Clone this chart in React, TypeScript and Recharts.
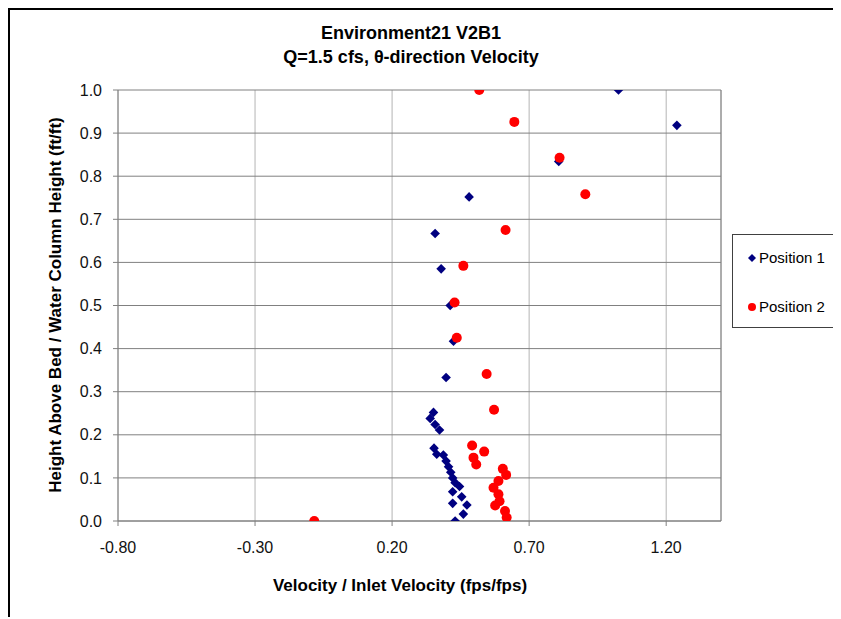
import React from "react";
import { ScatterChart, Scatter, XAxis, YAxis, CartesianGrid, ReferenceLine } from "recharts";

const pos1Velocity = [0.430, 0.460, 0.473, 0.421, 0.454, 0.421, 0.446, 0.430, 0.421, 0.414, 0.406, 0.397, 0.387, 0.363, 0.353, 0.373, 0.357, 0.339, 0.351, 0.397, 0.424, 0.412, 0.379, 0.357, 0.481, 0.808, 1.239, 1.026];
const pos1Height = [0.000, 0.016, 0.037, 0.041, 0.056, 0.068, 0.080, 0.089, 0.100, 0.113, 0.126, 0.139, 0.153, 0.155, 0.169, 0.211, 0.224, 0.238, 0.252, 0.333, 0.417, 0.500, 0.585, 0.667, 0.752, 0.834, 0.918, 1.000];

const pos2Velocity = [-0.084, 0.618, 0.612, 0.576, 0.592, 0.588, 0.570, 0.588, 0.616, 0.604, 0.507, 0.497, 0.536, 0.492, 0.572, 0.545, 0.436, 0.428, 0.460, 0.614, 0.905, 0.811, 0.646, 0.518];
const pos2Height = [0.000, 0.008, 0.023, 0.036, 0.046, 0.062, 0.077, 0.093, 0.107, 0.121, 0.131, 0.147, 0.161, 0.175, 0.258, 0.341, 0.425, 0.507, 0.592, 0.675, 0.758, 0.843, 0.926, 1.000];

const xTicks = [-0.8, -0.3, 0.2, 0.7, 1.2];
const yTicks = [0, 0.1, 0.2, 0.3, 0.4, 0.5, 0.6, 0.7, 0.8, 0.9, 1.0];

const titleLines = ["Environment21 V2B1", "Q=1.5 cfs, θ-direction Velocity"];
const xTitle = "Velocity / Inlet Velocity (fps/fps)";
const yTitle = "Height Above Bed / Water Column Height (ft/ft)";

const seriesNames = ["Position 1", "Position 2"];
const seriesColors = ["#000080", "#FF0000"];

const zip = (xs: number[], ys: number[]) => xs.map((x, i) => ({ x, y: ys[i] }));
const data1 = zip(pos1Velocity, pos1Height);
const data2 = zip(pos2Velocity, pos2Height);

const FONT = '"Liberation Sans", Arial, sans-serif';

const Diamond = (props: any) => {
  const { cx, cy } = props;
  if (cx == null || cy == null) return null;
  const r = 4.8;
  return (
    <polygon
      points={`${cx},${cy - r} ${cx + r},${cy} ${cx},${cy + r} ${cx - r},${cy}`}
      fill={seriesColors[0]}
    />
  );
};

const Dot = (props: any) => {
  const { cx, cy } = props;
  if (cx == null || cy == null) return null;
  return <circle cx={cx} cy={cy} r={5} fill={seriesColors[1]} />;
};

export default function App() {
  return (
    <div
      style={{
        position: "relative",
        width: 823,
        height: 607,
        borderLeft: "2px solid #000",
        borderTop: "2px solid #000",
        fontFamily: FONT,
        background: "#fff",
      }}
    >
      <ScatterChart
        width={823}
        height={607}
        margin={{ top: 80, right: 112, bottom: 56, left: 48 }}
      >
        <CartesianGrid horizontal={false} stroke="#b4b4b4" />
        <CartesianGrid vertical={false} stroke="#808080" />
        <XAxis
          type="number"
          dataKey="x"
          domain={[-0.8, 1.4]}
          ticks={xTicks}
          allowDataOverflow
          tickFormatter={(v: number) => v.toFixed(2)}
          stroke="#808080"
          tickSize={5}
          tickMargin={16}
          height={40}
          tick={{ fill: "#111", fontSize: 16, fontFamily: FONT }}
        />
        <YAxis
          type="number"
          dataKey="y"
          domain={[0, 1]}
          ticks={yTicks}
          allowDataOverflow
          tickFormatter={(v: number) => v.toFixed(1)}
          stroke="#808080"
          tickSize={5}
          tickMargin={11}
          width={60}
          tick={{ fill: "#111", fontSize: 16, fontFamily: FONT }}
        />
        <ReferenceLine x={1.4} stroke="#808080" />
        <Scatter name={seriesNames[0]} data={data1} shape={Diamond} isAnimationActive={false} />
        <Scatter name={seriesNames[1]} data={data2} shape={Dot} isAnimationActive={false} />
      </ScatterChart>

      <div
        style={{
          position: "absolute",
          left: 0,
          width: 802,
          top: 11,
          textAlign: "center",
          fontWeight: "bold",
          fontSize: 18,
          lineHeight: "24px",
          color: "#000",
        }}
      >
        {titleLines.map((t) => (
          <div key={t}>{t}</div>
        ))}
      </div>

      <div
        style={{
          position: "absolute",
          left: 0,
          width: 780,
          top: 566,
          textAlign: "center",
          fontWeight: "bold",
          fontSize: 17,
          lineHeight: "20px",
          color: "#000",
          whiteSpace: "nowrap",
        }}
      >
        {xTitle}
      </div>

      <div
        style={{
          position: "absolute",
          left: 46 - 250,
          width: 500,
          top: 295 - 10,
          height: 20,
          lineHeight: "20px",
          textAlign: "center",
          transform: "rotate(-90deg)",
          fontWeight: "bold",
          fontSize: 17,
          color: "#000",
          whiteSpace: "nowrap",
        }}
      >
        {yTitle}
      </div>

      <div
        style={{
          position: "absolute",
          left: 722,
          top: 224,
          width: 106,
          height: 94,
          boxSizing: "border-box",
          border: "1px solid #404040",
          background: "#fff",
          fontSize: 15,
          color: "#000",
        }}
      >
        {seriesNames.map((name, i) => (
          <div
            key={name}
            style={{
              position: "absolute",
              left: 13,
              top: i === 0 ? 13 : 62,
              height: 20,
              lineHeight: "20px",
              display: "flex",
              alignItems: "center",
              whiteSpace: "nowrap",
            }}
          >
            <svg width={12} height={12} style={{ marginRight: 1 }}>
              {i === 0 ? (
                <polygon points="6,2 10,6 6,10 2,6" fill={seriesColors[0]} />
              ) : (
                <circle cx={6} cy={6} r={4} fill={seriesColors[1]} />
              )}
            </svg>
            <span>{name}</span>
          </div>
        ))}
      </div>
    </div>
  );
}
